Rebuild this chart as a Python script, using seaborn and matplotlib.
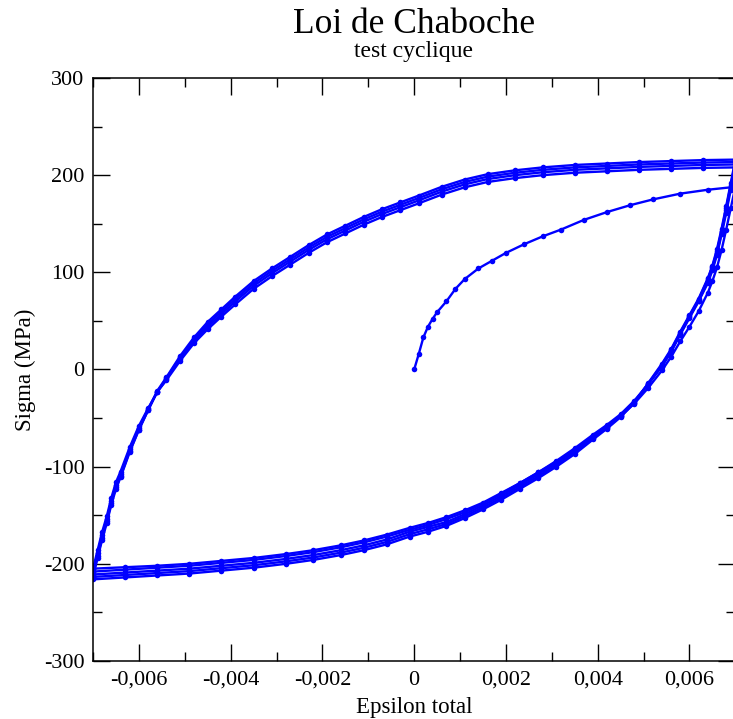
'''
Loi de Chaboche - test cyclique (strain controlled, +/- 0.007)
'''
import pandas as pd
import matplotlib
matplotlib.use('agg')
import matplotlib.pyplot as plt
from matplotlib.ticker import MultipleLocator, FuncFormatter
import seaborn as sns

# monotonic loading 0 -> 0.007
mono_strain = [0, 0.0001, 0.0002, 0.0003, 0.0004, 0.0005, 0.0007, 0.0009, 0.0011,
               0.0014, 0.0017, 0.002, 0.0024, 0.0028, 0.0032, 0.0037, 0.0042,
               0.0047, 0.0052, 0.0058, 0.0064, 0.007]
mono_stress = [0, 16, 33, 44, 52, 59, 70, 83, 93, 104, 112, 120, 129, 137, 144,
               154, 162, 169, 175, 181, 185, 188]

# loading branches -0.007 -> 0.007
up_strain = [-0.007, -0.0069, -0.0068, -0.0067, -0.0066, -0.0065, -0.0064, -0.0062,
             -0.006, -0.0058, -0.0056, -0.0054, -0.0051, -0.0048, -0.0045, -0.0042,
             -0.0039, -0.0035, -0.0031, -0.0027, -0.0023, -0.0019, -0.0015, -0.0011,
             -0.0007, -0.0003, 0.0001, 0.0006, 0.0011, 0.0016, 0.0022, 0.0028,
             0.0035, 0.0042, 0.0049, 0.0056, 0.0063, 0.007]
up1 = [-205, -186, -167, -151, -132, -116, -105, -80, -58, -40, -23, -11, 9, 27, 41.5,
       54.5, 67, 83, 96, 108, 120, 131, 140, 149, 157, 164, 171, 180, 187.5, 193, 197,
       200, 202.5, 204, 205.5, 206.5, 207.5, 208]
up2 = [-208, -189, -170, -154, -135, -119, -108, -82, -60, -41, -23, -10, 11, 29, 44,
       57, 70, 86, 99, 111, 123, 134, 143, 152, 160, 167, 174, 183, 190.5, 196, 200,
       203, 205.5, 207, 208.5, 209.5, 210.5, 211]
up3 = [-211, -192, -173, -156, -137, -121, -110, -84, -62, -42, -23, -9, 12.5, 31,
       46.5, 59.5, 72.5, 88.5, 101.5, 113.5, 125.5, 136.5, 145.5, 154.5, 162.5, 169.5,
       176.5, 185.5, 193, 198.5, 202.5, 205.5, 208, 209.5, 211, 212, 213, 213.5]
up4 = [-213.5, -194, -175, -158, -139, -123, -111, -85, -62, -42, -22, -8, 14, 33, 49,
       62, 75, 91, 104, 116, 128, 139, 148, 157, 165, 172, 179, 188, 195.5, 201, 205,
       208, 210.5, 212, 213.5, 214.5, 215.5, 216]

# unloading branches 0.007 -> -0.007
down_strain = [0.007, 0.0069, 0.0068, 0.0067, 0.0066, 0.0065, 0.0064, 0.0062, 0.006,
               0.0058, 0.0056, 0.0054, 0.0051, 0.0048, 0.0045, 0.0042, 0.0039, 0.0035,
               0.0031, 0.0027, 0.0023, 0.0019, 0.0015, 0.0011, 0.0007, 0.0003, -0.0001,
               -0.0006, -0.0011, -0.0016, -0.0022, -0.0028, -0.0035, -0.0042, -0.0049,
               -0.0056, -0.0063, -0.007]
down1 = [188, 166, 144, 123, 105, 91, 79, 60, 44, 29, 13, -1, -19, -35, -48, -59, -69,
         -82, -95, -106, -117, -127, -137, -145, -152, -158, -163, -170, -176, -181,
         -186, -190, -194, -197, -200, -202, -203.5, -205]
down2 = [208, 185, 161, 139, 118, 102, 89, 70, 53, 36, 18, 3, -15, -32, -46, -57, -67,
         -81, -94, -106, -117, -128, -138, -147, -154, -160, -165, -172, -178, -183,
         -188, -192, -196, -199, -202, -204, -206, -208]
down3 = [211, 188, 164, 141, 120, 104, 91, 71, 54, 37, 19, 4, -15, -33, -47, -59, -69,
         -83, -96, -108, -119, -130, -140, -149, -157, -162, -167, -175, -181, -186,
         -191, -195, -199, -202, -205, -207, -209, -211]
down4 = [213.5, 190, 166, 143, 122, 106, 93, 72, 55, 38, 20, 5, -15, -34, -48, -60, -71,
         -85, -98, -110, -121, -132, -142, -151, -159, -164.5, -169.5, -177.5, -183.5,
         -188.5, -193.5, -197.5, -201.5, -204.5, -207.5, -209.5, -211.5, -213.5]
down5 = [216, 192, 168, 145, 124, 107, 94, 73, 56, 39, 21, 6, -14, -34, -49, -61, -72,
         -87, -100, -112, -123, -134, -144, -153, -161, -167, -172, -180, -186, -191,
         -196, -200, -204, -207, -210, -212, -214, -216]

branches = [('mono', mono_strain, mono_stress),
            ('d1', down_strain, down1), ('u1', up_strain, up1),
            ('d2', down_strain, down2), ('u2', up_strain, up2),
            ('d3', down_strain, down3), ('u3', up_strain, up3),
            ('d4', down_strain, down4), ('u4', up_strain, up4),
            ('d5', down_strain, down5)]
frames = [pd.DataFrame({'strain': x, 'stress': y, 'branch': name})
          for name, x, y in branches]
df = pd.concat(frames, ignore_index=True)

sns.set_style('ticks')
plt.rcParams['font.family'] = ['Liberation Serif', 'DejaVu Serif']
plt.rcParams['text.color'] = 'black'
plt.rcParams['axes.labelcolor'] = 'black'

fig = plt.figure(figsize=(7.33, 7.19), dpi=100)
ax = fig.add_axes([0.1269, 0.0807, 0.8763, 0.8108])

sns.lineplot(data=df, x='strain', y='stress', units='branch', estimator=None,
             sort=False, color='#0000ff', lw=1.7, marker='o', markersize=4,
             markeredgewidth=0, ax=ax)

ax.set_xlim(-0.007, 0.007)
ax.set_ylim(-300, 300)
ax.xaxis.set_major_locator(MultipleLocator(0.002))
ax.xaxis.set_minor_locator(MultipleLocator(0.001))
ax.yaxis.set_major_locator(MultipleLocator(100))
ax.yaxis.set_minor_locator(MultipleLocator(50))
ax.xaxis.set_major_formatter(FuncFormatter(lambda v, p: '0' if abs(v) < 1e-12 else f'{v:g}'.replace('.', ',')))
ax.yaxis.set_major_formatter(FuncFormatter(lambda v, p: f'{v:.0f}'))

ax.tick_params(which='both', direction='in', top=True, right=True, colors='black',
               labelcolor='black', labelsize=16)
ax.tick_params(which='major', length=12, width=1.0)
ax.tick_params(which='minor', length=6.5, width=1.0)
ax.tick_params(axis='x', pad=7)
ax.tick_params(axis='y', pad=6)
for s in ax.spines.values():
    s.set_linewidth(1.1)
    s.set_color('black')

ax.set_xlabel('Epsilon total', fontsize=16.5, labelpad=5)
ax.set_ylabel('Sigma (MPa)', fontsize=16.5, labelpad=6)

fig.text(0.5648, 1 - 33 / 719, 'Loi de Chaboche', ha='center', va='baseline', fontsize=25.5)
fig.text(0.5648, 1 - 57 / 719, 'test cyclique', ha='center', va='baseline', fontsize=17)

fig.savefig('out.png', dpi=100)
